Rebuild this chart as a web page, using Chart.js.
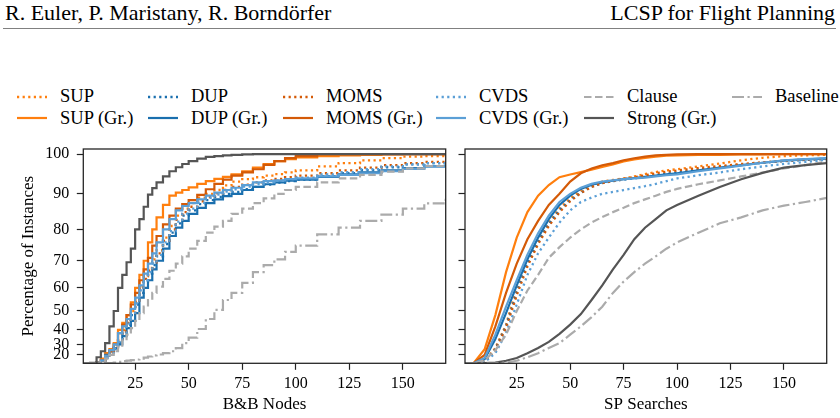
<!DOCTYPE html>
<html>
<head>
<meta charset="utf-8">
<script src="https://cdn.jsdelivr.net/npm/chart.js@4.4.1/dist/chart.umd.min.js"></script>
<style>
  html, body { margin: 0; padding: 0; background: #fff; }
  body { width: 840px; height: 418px; position: relative; overflow: hidden;
         font-family: "Liberation Serif", serif; color: #000; }
  .hdr { position: absolute; top: 2px; font-size: 22px; line-height: 1; white-space: nowrap; }
  #hl { left: 5px; }
  #hr { right: 5px; }
  #rule { position: absolute; left: 3px; width: 833px; top: 27.5px; height: 1.3px; background: #808080; }
  .lg { position: absolute; font-size: 18.5px; line-height: 1; white-space: nowrap; }
  .sw { position: absolute; }
  canvas { position: absolute; }
</style>
</head>
<body>
<div class="hdr" id="hl">R. Euler, P. Maristany, R. Borndörfer</div>
<div class="hdr" id="hr">LCSP for Flight Planning</div>
<div id="rule"></div>
<div id="legend"></div>
<canvas id="bbChart" width="455" height="278" style="left:0;top:140px;width:455px;height:278px"></canvas>
<canvas id="spChart" width="385" height="278" style="left:455px;top:140px;width:385px;height:278px"></canvas>
<script>
// --- Daten ---
const series = ['SUP', 'SUP (Gr.)', 'DUP', 'DUP (Gr.)', 'MOMS', 'MOMS (Gr.)', 'CVDS', 'CVDS (Gr.)', 'Clause', 'Strong (Gr.)', 'Baseline'];
const xTicks = [25, 50, 75, 100, 125, 150];
const yTicks = [20, 30, 40, 50, 60, 70, 80, 90, 100];

// B&B Nodes (links)
const bbX        = [1, 4, 7, 9, 11, 13, 15, 17, 19, 21, 23, 25, 27, 29, 31, 33, 35, 38, 41, 44, 47, 50, 54, 58, 62, 66, 70, 75, 80, 85, 90, 95, 100, 110, 120, 130, 140, 150, 160, 170];
const bbSup      = [0, 1.5, 5, 10, 18, 24, 28, 34, 40, 45, 50, 55, 60.5, 64.5, 67.5, 70.5, 73.5, 77.5, 81, 84, 86, 87.5, 89, 90, 91, 92.2, 93.2, 93.8, 94.3, 94.7, 95.1, 95.5, 96, 97, 97.8, 98.5, 99, 99.4, 99.5, 99.6];
const bbSupGr    = [0, 2, 7, 15, 22, 26, 31, 40, 44, 48, 54, 60, 65, 70, 76, 80, 83.5, 87, 89.5, 90.3, 91, 91.7, 92.6, 93.3, 93.9, 94.4, 95, 95.8, 96.7, 97.6, 98.3, 98.8, 99.2, 99.5, 99.7, 99.8, 99.9, 100, 100, 100];
const bbDup      = [0, 1, 4.5, 9.5, 16, 22, 26, 31.5, 38, 43, 48, 53, 58, 62.5, 65.5, 68.5, 71.5, 75.5, 79, 81.8, 84, 85.5, 87.2, 88.3, 89.2, 90, 90.5, 91.2, 91.8, 92.4, 92.9, 93.3, 93.7, 94.6, 95.3, 96.1, 96.8, 97.5, 97.8, 98];
const bbDupGr    = [0, 1, 4, 12, 20, 24, 27, 30, 36, 41, 45, 49, 56, 60, 63, 67, 70, 74, 78, 80.5, 82.5, 84.5, 86.2, 87.5, 88.5, 89.4, 90, 91, 91.8, 92.5, 93, 93.4, 93.7, 94.4, 95, 95.5, 96, 96.6, 97, 97.3];
const bbMoms     = [0, 1.5, 5, 10, 17, 23, 27, 33, 39, 44, 49, 54, 59.5, 63.5, 66.5, 69.5, 72.5, 76.5, 80, 82.8, 85, 86.5, 88, 89.1, 90.1, 91, 91.8, 92.4, 93, 93.5, 93.9, 94.3, 94.7, 95.3, 96, 96.7, 97.3, 97.8, 98.1, 98.3];
const bbMomsGr   = [0, 1.5, 6, 12, 19, 24, 30, 38, 43, 48, 53, 58, 63, 67, 71, 75, 78, 81.5, 84, 86, 87.2, 88.3, 89.7, 91.2, 92.6, 93.7, 94.7, 95.5, 96.3, 97.4, 98.3, 99, 99.5, 100, 100, 100, 100, 100, 100, 100];
const bbCvds     = [0, 1.2, 4.8, 10, 16.5, 22.5, 26.5, 32, 38.5, 43.5, 48.5, 53.5, 59, 63, 66, 69, 72, 76, 79.5, 82.3, 84.6, 86, 87.6, 88.9, 89.8, 90.6, 91.2, 91.9, 92.5, 93, 93.4, 93.8, 94.2, 95, 95.6, 96.3, 97, 97.5, 97.8, 98];
const bbCvdsGr   = [0, 1.5, 6, 12, 19, 25, 30, 38, 42, 46, 51, 56, 61, 65.5, 69, 72.5, 76, 80, 83, 85.5, 86.7, 87.5, 88.5, 89.5, 90.3, 91, 91.6, 92.3, 93, 93.3, 93.5, 93.8, 94, 94.5, 94.9, 95.3, 95.8, 96.4, 97, 97.6];
const bbClause   = [0, 1, 4, 8, 15, 20, 24, 28, 33, 37, 41, 45, 49, 52, 55, 58, 60.5, 63.5, 66.5, 69, 71.5, 74, 76.5, 79, 80.8, 82.5, 84.5, 86, 87.5, 88.8, 90, 91, 91.8, 93, 94, 94.9, 95.7, 96.5, 97.1, 97.7];
const bbStrongGr = [0, 4, 17, 24, 31, 42, 50, 60, 65, 69.5, 74, 80, 83, 86.5, 89.8, 91.5, 93, 94.5, 95.8, 96.8, 97.6, 98.3, 98.9, 99.3, 99.5, 99.7, 99.8, 99.9, 100, 100, 100, 100, 100, 100, 100, 100, 100, 100, 100, 100];
const bbBaseline = [0, 0.5, 1, 1.5, 2, 3, 6, 8, 10, 11.5, 12.5, 13.5, 15, 16.5, 18, 19.5, 20.5, 22, 24, 27, 31, 35, 40.5, 46, 50.5, 55, 58, 62, 66, 68.5, 70.5, 73, 75, 78.5, 80.5, 82.5, 84.3, 86, 87.4, 88.7];

// SP Searches (rechts)
const spX        = [1, 5, 10, 15, 20, 25, 30, 35, 40, 45, 50, 55, 60, 65, 70, 75, 80, 85, 90, 95, 100, 110, 120, 130, 140, 150, 160, 170];
const spSup      = [0, 2, 10, 27, 43, 60, 70, 77, 82, 86, 88.8, 90.8, 92.3, 93.2, 93.6, 94, 94.5, 95.1, 95.6, 96, 96.3, 97, 97.7, 98.5, 99.1, 99.5, 99.7, 99.8];
const spSupGr    = [0, 5, 26, 48, 66, 77.5, 85, 89.5, 92.3, 94.3, 95, 95.6, 96.2, 96.9, 97.5, 98.2, 98.7, 99.1, 99.4, 99.6, 99.7, 99.8, 99.8, 99.9, 99.9, 100, 100, 100];
const spDup      = [0, 1.8, 9.5, 26, 42, 58, 69, 76, 81.5, 85.5, 88.3, 90.3, 91.9, 92.8, 93.3, 93.7, 94, 94.4, 94.8, 95.2, 95.5, 96.2, 96.8, 97.4, 97.9, 98.3, 98.6, 98.8];
const spDupGr    = [0, 2.5, 14, 34, 49, 61, 70.5, 77.5, 83, 87, 89.5, 91.3, 92.4, 93, 93.4, 93.8, 94.1, 94.4, 94.7, 95, 95.3, 96, 96.7, 97.3, 97.9, 98.4, 98.7, 98.9];
const spMoms     = [0, 1.8, 9, 25, 41, 57, 68, 75.5, 81, 85, 88, 90.2, 91.8, 92.8, 93.4, 93.9, 94.3, 94.8, 95.3, 95.7, 96, 96.6, 97.1, 97.6, 98, 98.4, 98.7, 98.9];
const spMomsGr   = [0, 4, 20, 42, 58, 69, 77, 82.5, 87, 90, 93.2, 95.3, 96.5, 97.3, 97.8, 98.5, 99, 99.4, 99.7, 99.8, 99.9, 100, 100, 100, 100, 100, 100, 100];
const spCvds     = [0, 1.5, 8, 22, 38, 53, 65, 72.5, 77.5, 82, 85.5, 87.8, 89, 90, 90.5, 91, 91.5, 92, 92.6, 93.3, 94, 94.8, 95.5, 96.3, 97, 97.6, 98.1, 98.6];
const spCvdsGr   = [0, 3, 16, 37, 52, 63, 72, 78.8, 84, 87.8, 90, 91.6, 92.6, 93.2, 93.5, 93.8, 94, 94.2, 94.5, 94.8, 95, 95.8, 96.5, 97.2, 97.9, 98.5, 98.8, 99];
const spClause   = [0, 2, 12, 25, 37, 50, 59, 65, 71, 74.5, 77.5, 80, 82, 83.6, 85, 86.2, 87.5, 88.5, 89.5, 90.5, 91.3, 92.5, 93.5, 94.5, 95.5, 96.5, 97.3, 98.2];
const spStrongGr = [0, 0.5, 2, 6, 11, 16, 22, 27, 32, 37.5, 43, 48.5, 55, 61, 67, 72, 77, 80.5, 83, 85.5, 87, 89.5, 91.8, 93.8, 95.4, 96.7, 97.3, 97.8];
const spBaseline = [0, 0.3, 1, 3, 6, 11, 17, 22, 27, 31, 37, 42, 47, 52, 58, 62.5, 66, 69, 71.5, 74, 76, 79, 81.8, 83.5, 85.5, 86.8, 87.8, 88.9];

const bbValues = [bbSup, bbSupGr, bbDup, bbDupGr, bbMoms, bbMomsGr, bbCvds, bbCvdsGr, bbClause, bbStrongGr, bbBaseline];
const spValues = [spSup, spSupGr, spDup, spDupGr, spMoms, spMomsGr, spCvds, spCvdsGr, spClause, spStrongGr, spBaseline];

// --- Linienstile ---
const DOT = [2.2, 3.4], DASH = [7.5, 3.5], DASHDOT = [12, 3.5, 2.2, 3.5];
const styles = {
  'SUP':          { color: '#ff7f0e', dash: DOT,     width: 2.3 },
  'SUP (Gr.)':    { color: '#ff7f0e', dash: [],      width: 2.2 },
  'DUP':          { color: '#1a6fae', dash: DOT,     width: 2.3 },
  'DUP (Gr.)':    { color: '#1a6fae', dash: [],      width: 2.2 },
  'MOMS':         { color: '#d45a07', dash: DOT,     width: 2.3 },
  'MOMS (Gr.)':   { color: '#d45a07', dash: [],      width: 2.2 },
  'CVDS':         { color: '#5b9fd6', dash: DOT,     width: 2.3 },
  'CVDS (Gr.)':   { color: '#5b9fd6', dash: [],      width: 2.2 },
  'Clause':       { color: '#ababab', dash: DASH,    width: 2.2 },
  'Strong (Gr.)': { color: '#555555', dash: [],      width: 2.2 },
  'Baseline':     { color: '#ababab', dash: DASHDOT, width: 2.2 }
};

// --- Quadratische y-Achse ---
class SquareScale extends Chart.LinearScale {
  static id = 'square';
  static defaults = {};
  getPixelForValue(value) {
    if (value === null || value === undefined || isNaN(value)) return NaN;
    const lo = this.min * this.min, hi = this.max * this.max;
    return this.getPixelForDecimal((value * value - lo) / (hi - lo));
  }
  getValueForPixel(pixel) {
    const lo = this.min * this.min, hi = this.max * this.max;
    return Math.sqrt(lo + this.getDecimalForPixel(pixel) * (hi - lo));
  }
}
Chart.register(SquareScale);

// Rahmen um die Zeichenfläche
const framePlugin = {
  id: 'frame',
  afterDatasetsDraw(chart) {
    const { ctx, chartArea: a } = chart;
    ctx.save();
    ctx.strokeStyle = '#262626';
    ctx.lineWidth = 1.3;
    ctx.strokeRect(a.left, a.top, a.right - a.left, a.bottom - a.top);
    ctx.restore();
  }
};

Chart.defaults.font.family = "'Liberation Serif', serif";
Chart.defaults.color = '#000';

function makeChart(canvasId, xs, values, xTitle, showY, stepped, pad) {
  const datasets = series.map((name, i) => ({
    label: name,
    data: xs.map((x, k) => ({ x: x, y: values[i][k] })),
    borderColor: styles[name].color,
    borderDash: styles[name].dash,
    borderWidth: styles[name].width,
    borderCapStyle: 'butt',
    pointRadius: 0,
    tension: 0,
    stepped: stepped,
    fill: false,
    order: series.length - i   // spätere Serien oben
  }));

  const tickGrid = { drawOnChartArea: false, drawTicks: true, tickLength: 6.5, tickWidth: 1.2, tickColor: '#222' };

  return new Chart(document.getElementById(canvasId), {
    type: 'line',
    data: { datasets },
    options: {
      responsive: false,
      animation: false,
      events: [],
      layout: { padding: pad },
      plugins: { legend: { display: false }, tooltip: { enabled: false } },
      scales: {
        x: {
          type: 'linear', min: 0.8, max: 170,
          afterBuildTicks: s => { s.ticks = xTicks.map(v => ({ value: v })); },
          afterFit: s => { s.height = 54.7; s.paddingLeft = 0; s.paddingRight = 0; },
          grid: tickGrid,
          border: { display: false },
          ticks: { padding: 4.5, font: { size: 16 }, color: '#000' },
          title: { display: true, text: xTitle, font: { size: 17 }, color: '#000', padding: { top: 0, bottom: 2.8 } }
        },
        y: {
          type: 'square', min: 0, max: 101.2,
          afterBuildTicks: s => { s.ticks = yTicks.map(v => ({ value: v })); },
          afterFit: s => { s.width = showY ? 83.3 : 10; s.paddingTop = 0; s.paddingBottom = 0; },
          grid: tickGrid,
          border: { display: false },
          ticks: { display: showY, padding: 7.5, font: { size: 16, lineHeight: 1 }, color: '#000' },
          title: { display: showY, text: 'Percentage of Instances', font: { size: 17 }, color: '#000', padding: { top: 18, bottom: 0 } }
        }
      }
    },
    plugins: [framePlugin]
  });
}

makeChart('bbChart', bbX, bbValues, 'B&B Nodes', true, true, { left: 0, top: 9, right: 9.3, bottom: 0 });
makeChart('spChart', spX, spValues, 'SP Searches', false, false, { left: 0, top: 9, right: 13.3, bottom: 0 });

// --- Legende (spaltenweise, 2 Zeilen) ---
const legendCols = [17, 148, 283, 436, 584, 732];
const legendRows = [96.5, 118.3];
const legendEl = document.getElementById('legend');
series.forEach((name, i) => {
  const cx = legendCols[Math.floor(i / 2)];
  const cy = legendRows[i % 2];
  const st = styles[name];
  const sw = document.createElementNS('http://www.w3.org/2000/svg', 'svg');
  sw.setAttribute('class', 'sw');
  sw.setAttribute('width', '30');
  sw.setAttribute('height', '8');
  sw.style.left = cx + 'px';
  sw.style.top = (cy - 4) + 'px';
  const ln = document.createElementNS('http://www.w3.org/2000/svg', 'line');
  ln.setAttribute('x1', '0'); ln.setAttribute('y1', '4');
  ln.setAttribute('x2', '30'); ln.setAttribute('y2', '4');
  ln.setAttribute('stroke', st.color);
  ln.setAttribute('stroke-width', st.width);
  if (st.dash.length) ln.setAttribute('stroke-dasharray', st.dash.join(' '));
  sw.appendChild(ln);
  legendEl.appendChild(sw);

  const tx = document.createElement('div');
  tx.className = 'lg';
  tx.textContent = name;
  tx.style.left = (cx + 43) + 'px';
  tx.style.top = (cy - 9.4) + 'px';
  legendEl.appendChild(tx);
});
</script>
</body>
</html>
